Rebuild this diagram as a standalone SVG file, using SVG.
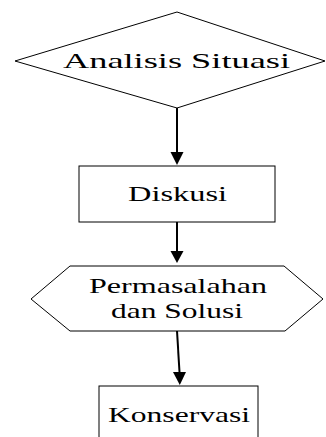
<svg xmlns="http://www.w3.org/2000/svg" width="326" height="437" viewBox="0 0 326 437">
<style>
.shape{fill:#fff;stroke:#000;stroke-width:1}
.lbl{font-family:"Liberation Serif","Times New Roman",serif;font-size:22px;fill:#000;text-anchor:middle}
.conn{stroke:#000;stroke-width:2;fill:none}
.head{fill:#000}
</style>
<rect width="326" height="437" fill="#fff"/>
<g id="node-analisis">
<polygon class="shape" points="177,12 325,61 177,108 15,61"/>
<text class="lbl" x="176.5" y="68" font-size="23" textLength="227" lengthAdjust="spacingAndGlyphs">Analisis Situasi</text>
</g>
<g id="node-diskusi">
<rect class="shape" x="79" y="166" width="196" height="56"/>
<text class="lbl" x="177.5" y="201" textLength="99" lengthAdjust="spacingAndGlyphs">Diskusi</text>
</g>
<g id="node-permasalahan">
<polygon class="shape" points="31,299 70,266 284,266 323,299 285,331 70,331"/>
<text class="lbl" x="178" y="293" textLength="178" lengthAdjust="spacingAndGlyphs">Permasalahan</text>
<text class="lbl" x="177" y="318" textLength="132" lengthAdjust="spacingAndGlyphs">dan Solusi</text>
</g>
<g id="node-konservasi">
<rect class="shape" x="99" y="386" width="159" height="60"/>
<text class="lbl" x="179" y="422" textLength="142" lengthAdjust="spacingAndGlyphs">Konservasi</text>
</g>
<g id="connectors">
<line class="conn" x1="177" y1="108" x2="177" y2="152"/>
<polygon class="head" points="170.5,152 183.5,152 177,165"/>
<line class="conn" x1="177" y1="222" x2="177" y2="251"/>
<polygon class="head" points="170.5,251 183.5,251 177,263"/>
<line class="conn" x1="177" y1="331" x2="179.5" y2="372"/>
<polygon class="head" points="173,372 186,372 179.8,385"/>
</g>
</svg>
